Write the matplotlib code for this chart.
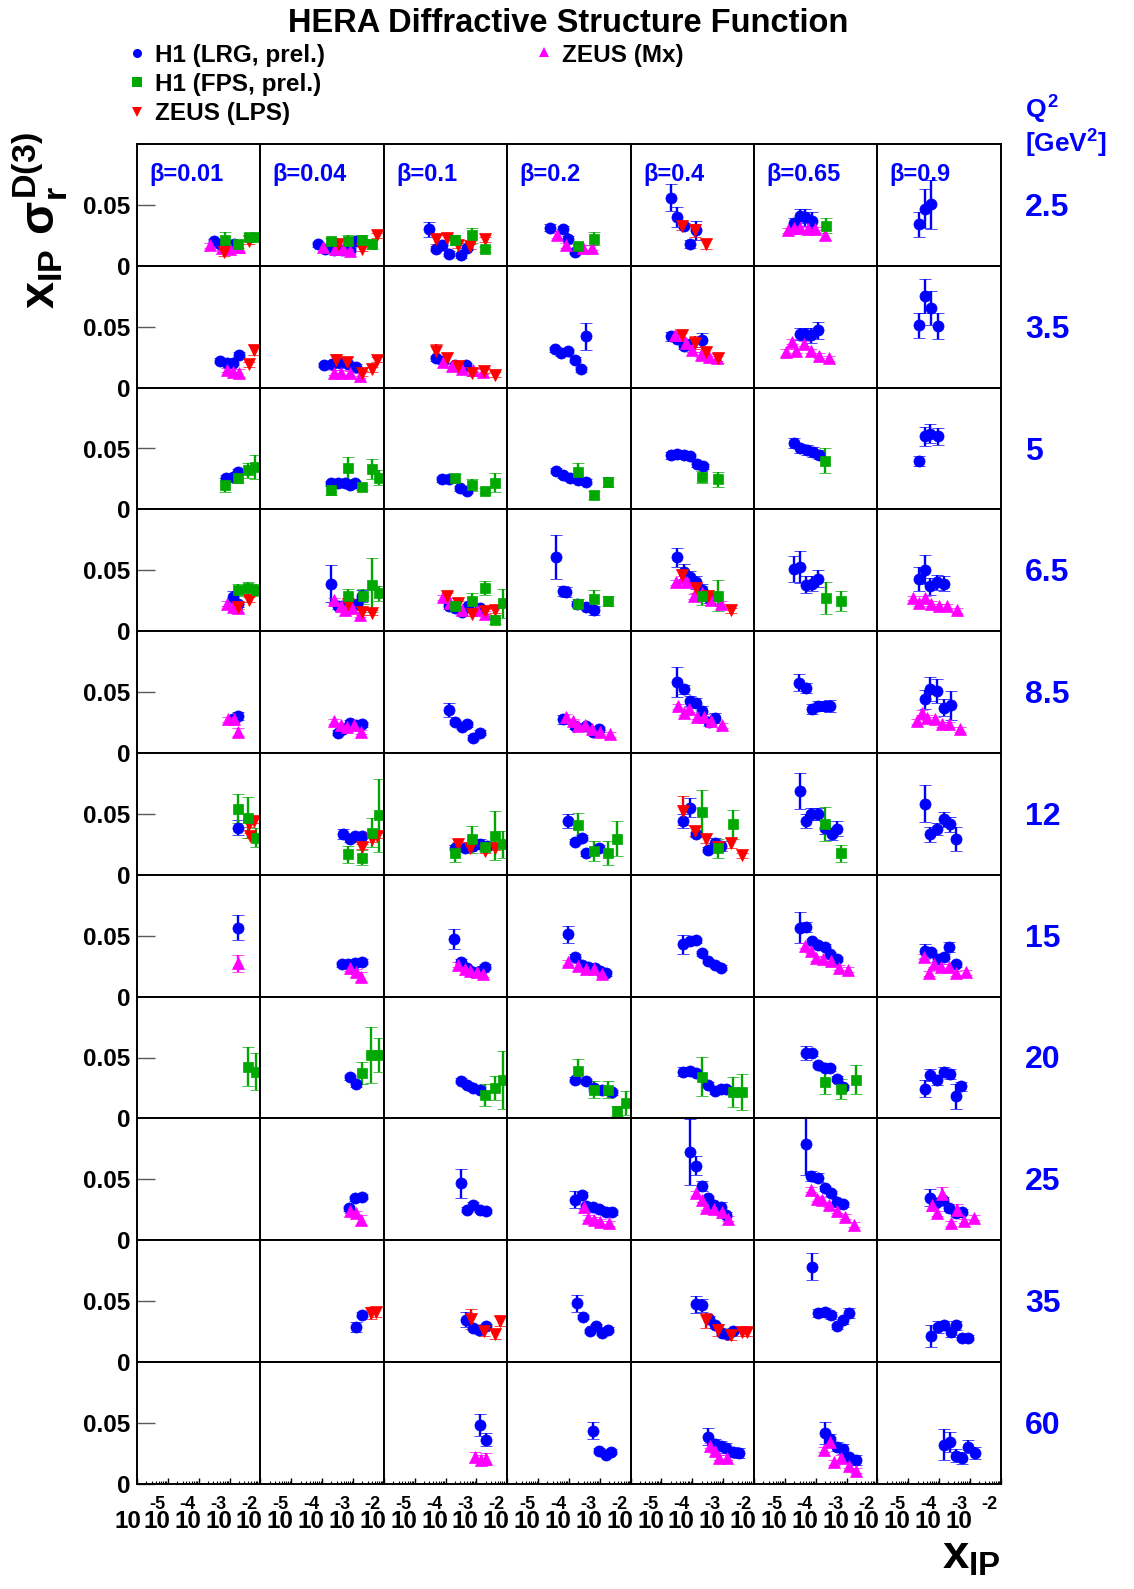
import numpy as np
import matplotlib.pyplot as plt
from matplotlib.ticker import LogLocator, NullFormatter

plt.rcParams['font.family'] = ['Liberation Sans', 'DejaVu Sans']
plt.rcParams['font.weight'] = 'bold'
plt.rcParams['mathtext.fontset'] = 'custom'
plt.rcParams['mathtext.rm'] = 'Liberation Sans:bold'
plt.rcParams['mathtext.it'] = 'Liberation Sans:bold'
plt.rcParams['mathtext.bf'] = 'Liberation Sans:bold'
plt.rcParams['mathtext.sf'] = 'Liberation Sans:bold'

# rows = Q2 bins, columns = beta bins
q2_values = [2.5, 3.5, 5, 6.5, 8.5, 12, 15, 20, 25, 35, 60]
q2_labels = ['2.5', '3.5', '5', '6.5', '8.5', '12', '15', '20', '25', '35', '60']
beta_values = [0.01, 0.04, 0.1, 0.2, 0.4, 0.65, 0.9]
beta_labels = ['0.01', '0.04', '0.1', '0.2', '0.4', '0.65', '0.9']

# points per (Q2, beta) bin: (log10 x_IP, x_IP*sigma_r, error); error defaults to 0.002
h1_lrg = {
    (2.5, 0.01): [(-3.52, 0.020), (-3.3, 0.018), (-3.05, 0.016), (-2.85, 0.018)],
    (2.5, 0.04): [(-4.12, 0.0178), (-3.9, 0.014), (-3.63, 0.013), (-3.37, 0.013), (-3.1, 0.013), (-2.9, 0.020, 0.004)],
    (2.5, 0.1): [(-4.52, 0.030, 0.006), (-4.30, 0.014), (-4.12, 0.017), (-3.9, 0.010), (-3.5, 0.0087), (-3.31, 0.015)],
    (2.5, 0.2): [(-4.62, 0.0314, 0.003), (-4.19, 0.030, 0.003), (-4.02, 0.0224), (-3.81, 0.0115)],
    (2.5, 0.4): [(-4.70, 0.056, 0.011), (-4.49, 0.040, 0.008), (-4.27, 0.033), (-4.09, 0.018, 0.003), (-3.89, 0.029, 0.008)],
    (2.5, 0.65): [(-4.71, 0.035, 0.004), (-4.52, 0.041, 0.006), (-4.34, 0.040, 0.007), (-4.12, 0.037, 0.007)],
    (2.5, 0.9): [(-4.66, 0.034, 0.010), (-4.47, 0.047, 0.016), (-4.25, 0.0505, 0.020)],
    (3.5, 0.01): [(-3.32, 0.022), (-3.08, 0.0205), (-2.89, 0.0205), (-2.7, 0.027)],
    (3.5, 0.04): [(-3.94, 0.0186), (-3.69, 0.019), (-3.42, 0.020), (-3.15, 0.019), (-2.9, 0.017)],
    (3.5, 0.1): [(-4.30, 0.024), (-4.07, 0.022), (-3.69, 0.0186), (-3.33, 0.0186)],
    (3.5, 0.2): [(-4.46, 0.0314), (-4.24, 0.028), (-4.02, 0.030), (-3.81, 0.023), (-3.61, 0.015), (-3.43, 0.042, 0.011)],
    (3.5, 0.4): [(-4.70, 0.042, 0.004), (-4.49, 0.040), (-4.27, 0.034), (-4.06, 0.036), (-3.68, 0.039, 0.006)],
    (3.5, 0.65): [(-4.52, 0.044, 0.005), (-4.34, 0.044, 0.005), (-4.14, 0.043, 0.006), (-3.93, 0.047, 0.007)],
    (3.5, 0.9): [(-4.66, 0.051, 0.010), (-4.47, 0.075, 0.014), (-4.25, 0.065, 0.014), (-4.03, 0.0505, 0.011)],
    (5, 0.01): [(-3.11, 0.026), (-2.89, 0.027), (-2.71, 0.031)],
    (5, 0.04): [(-3.71, 0.0213), (-3.47, 0.0213), (-3.26, 0.022), (-3.1, 0.020), (-2.93, 0.0213)],
    (5, 0.1): [(-4.12, 0.0246), (-3.9, 0.0246), (-3.53, 0.0172), (-3.31, 0.0153)],
    (5, 0.2): [(-4.42, 0.0317), (-4.19, 0.028), (-3.97, 0.0254), (-3.7, 0.024), (-3.43, 0.0227)],
    (5, 0.4): [(-4.70, 0.0445, 0.003), (-4.49, 0.0454, 0.003), (-4.27, 0.0445, 0.003), (-4.06, 0.0437), (-3.84, 0.037), (-3.66, 0.0355)],
    (5, 0.65): [(-4.69, 0.0546, 0.004), (-4.5, 0.050, 0.004), (-4.28, 0.0486, 0.004), (-4.1, 0.047, 0.004), (-3.9, 0.045, 0.004)],
    (5, 0.9): [(-4.66, 0.040, 0.004), (-4.47, 0.060, 0.008), (-4.28, 0.0623, 0.008), (-4.03, 0.060, 0.007)],
    (6.5, 0.01): [(-2.90, 0.028, 0.005), (-2.72, 0.022)],
    (6.5, 0.04): [(-3.71, 0.039, 0.015), (-3.5, 0.0205), (-3.31, 0.021), (-2.88, 0.022), (-2.72, 0.0287, 0.005)],
    (6.5, 0.1): [(-3.9, 0.0205), (-3.69, 0.019), (-3.47, 0.0156), (-3.26, 0.0205), (-2.88, 0.019)],
    (6.5, 0.2): [(-4.42, 0.0607, 0.018), (-4.19, 0.033, 0.004), (-4.08, 0.032, 0.004), (-3.75, 0.0227), (-3.43, 0.020), (-3.19, 0.017, 0.004)],
    (6.5, 0.4): [(-4.49, 0.0607, 0.008), (-4.27, 0.049, 0.006), (-4.09, 0.0445, 0.005), (-3.89, 0.040, 0.005), (-3.68, 0.034, 0.005), (-3.46, 0.0273, 0.004)],
    (6.5, 0.65): [(-4.71, 0.051, 0.011), (-4.52, 0.0527, 0.013), (-4.32, 0.038, 0.007), (-4.12, 0.039, 0.006), (-3.93, 0.043, 0.007)],
    (6.5, 0.9): [(-4.66, 0.043, 0.010), (-4.47, 0.0505, 0.012), (-4.28, 0.037, 0.007), (-4.07, 0.040, 0.006), (-3.85, 0.039, 0.006)],
    (8.5, 0.01): [(-2.89, 0.0276), (-2.71, 0.0303, 0.003)],
    (8.5, 0.04): [(-3.5, 0.0167), (-3.31, 0.0194), (-3.1, 0.0249), (-2.9, 0.0227), (-2.71, 0.0235)],
    (8.5, 0.1): [(-3.9, 0.0352, 0.006), (-3.69, 0.0254), (-3.47, 0.0216), (-3.31, 0.0235), (-3.1, 0.0126), (-2.88, 0.0167)],
    (8.5, 0.2): [(-4.19, 0.0276, 0.004), (-3.81, 0.0221), (-3.43, 0.0221), (-3.21, 0.0172), (-3.02, 0.0194)],
    (8.5, 0.4): [(-4.49, 0.0582, 0.012), (-4.27, 0.0522, 0.004), (-4.09, 0.0426, 0.004), (-3.89, 0.0413, 0.004), (-3.7, 0.0344, 0.004), (-3.46, 0.0254, 0.003), (-3.27, 0.029, 0.004)],
    (8.5, 0.65): [(-4.53, 0.0577, 0.007), (-4.32, 0.0536, 0.004), (-4.12, 0.0363, 0.004), (-3.93, 0.0385, 0.004), (-3.71, 0.0385, 0.004), (-3.53, 0.0385, 0.005)],
    (8.5, 0.9): [(-4.47, 0.044, 0.008), (-4.28, 0.0527, 0.010), (-4.07, 0.0508, 0.010), (-3.85, 0.0372, 0.007), (-3.63, 0.0391, 0.012)],
    (12, 0.01): [(-2.71, 0.0388, 0.006)],
    (12, 0.04): [(-3.31, 0.0333, 0.004), (-3.1, 0.0292), (-2.93, 0.032), (-2.72, 0.032)],
    (12, 0.1): [(-3.69, 0.0224), (-3.36, 0.0216), (-3.1, 0.0238), (-2.88, 0.0251, 0.004), (-2.66, 0.0238)],
    (12, 0.2): [(-4.02, 0.0443, 0.006), (-3.81, 0.027), (-3.59, 0.0306), (-3.43, 0.0178), (-3.02, 0.0224)],
    (12, 0.4): [(-4.3, 0.0443, 0.006), (-4.08, 0.0552, 0.008), (-3.89, 0.0333), (-3.48, 0.0205), (-3.27, 0.0265, 0.004), (-3.08, 0.0238, 0.004)],
    (12, 0.65): [(-4.52, 0.0689, 0.015), (-4.32, 0.0443, 0.006), (-4.14, 0.0497, 0.005), (-3.93, 0.0497, 0.005), (-3.69, 0.0388, 0.005), (-3.47, 0.0333, 0.005), (-3.31, 0.038, 0.006)],
    (12, 0.9): [(-4.47, 0.0585, 0.015), (-4.28, 0.0333, 0.006), (-4.07, 0.0374, 0.005), (-3.85, 0.0456, 0.006), (-3.66, 0.0415, 0.006), (-3.44, 0.0292, 0.010)],
    (15, 0.01): [(-2.71, 0.0566, 0.010)],
    (15, 0.04): [(-3.37, 0.0265), (-3.15, 0.0265), (-2.93, 0.0273), (-2.72, 0.0287)],
    (15, 0.1): [(-3.71, 0.0473, 0.008), (-3.49, 0.0287), (-3.31, 0.0232), (-3.1, 0.0205), (-2.88, 0.021), (-2.72, 0.0246)],
    (15, 0.2): [(-4.02, 0.0511, 0.007), (-3.81, 0.0328), (-3.59, 0.026), (-3.38, 0.0246), (-3.16, 0.0232), (-2.98, 0.021), (-2.8, 0.0191)],
    (15, 0.4): [(-4.3, 0.0429, 0.008), (-4.09, 0.0456), (-3.89, 0.0464), (-3.7, 0.0355), (-3.48, 0.0292), (-3.27, 0.026), (-3.08, 0.0238)],
    (15, 0.65): [(-4.52, 0.0566, 0.013), (-4.32, 0.0574, 0.004), (-4.12, 0.0456), (-3.93, 0.0423), (-3.69, 0.041), (-3.53, 0.0347), (-3.31, 0.0309)],
    (15, 0.9): [(-4.47, 0.0374, 0.006), (-4.25, 0.0363), (-4.03, 0.0309), (-3.85, 0.0328), (-3.67, 0.041, 0.004), (-3.44, 0.0265)],
    (20, 0.04): [(-3.1, 0.0339), (-2.9, 0.0281)],
    (20, 0.1): [(-3.49, 0.0309), (-3.31, 0.0276), (-3.1, 0.0249), (-2.88, 0.0235)],
    (20, 0.2): [(-3.81, 0.0317), (-3.43, 0.0303), (-3.18, 0.0249), (-2.94, 0.0235), (-2.59, 0.0216)],
    (20, 0.4): [(-4.3, 0.0385, 0.004), (-4.09, 0.0391), (-3.89, 0.0372), (-3.48, 0.0276), (-3.27, 0.0227, 0.003), (-3.08, 0.0243), (-2.9, 0.0243)],
    (20, 0.65): [(-4.32, 0.0536, 0.006), (-4.12, 0.0536), (-3.93, 0.044), (-3.69, 0.0413), (-3.53, 0.0413), (-3.31, 0.0325), (-3.1, 0.0254)],
    (20, 0.9): [(-4.47, 0.0243, 0.007), (-4.28, 0.0358, 0.005), (-4.07, 0.0317, 0.004), (-3.85, 0.0385, 0.004), (-3.66, 0.0363, 0.004), (-3.44, 0.018, 0.010), (-3.28, 0.0262, 0.004)],
    (25, 0.04): [(-3.12, 0.0262), (-2.93, 0.0344), (-2.71, 0.0358)],
    (25, 0.1): [(-3.49, 0.0467, 0.012), (-3.31, 0.0249), (-3.1, 0.029), (-2.88, 0.0249), (-2.68, 0.024)],
    (25, 0.2): [(-3.81, 0.0331, 0.007), (-3.59, 0.0372), (-3.43, 0.0281), (-3.21, 0.0276), (-3.02, 0.0257), (-2.8, 0.023), (-2.59, 0.023)],
    (25, 0.4): [(-4.09, 0.0727, 0.027), (-3.89, 0.0612, 0.008), (-3.7, 0.0448, 0.004), (-3.48, 0.0344), (-3.3, 0.029), (-3.08, 0.0276, 0.004), (-2.9, 0.0208)],
    (25, 0.65): [(-4.32, 0.0787, 0.025), (-4.14, 0.053, 0.004), (-3.93, 0.0514, 0.004), (-3.69, 0.0426), (-3.49, 0.0385), (-3.31, 0.0317), (-3.1, 0.0295)],
    (25, 0.9): [(-4.28, 0.035, 0.007), (-4.09, 0.0303), (-3.87, 0.0331), (-3.67, 0.0262), (-3.45, 0.0221), (-3.26, 0.0235)],
    (35, 0.04): [(-2.91, 0.0287, 0.004), (-2.71, 0.0388)],
    (35, 0.1): [(-3.33, 0.0347, 0.006), (-3.1, 0.0281), (-2.9, 0.026), (-2.7, 0.0292)],
    (35, 0.2): [(-3.73, 0.0484, 0.007), (-3.55, 0.0369), (-3.33, 0.0254), (-3.13, 0.0292), (-2.94, 0.024), (-2.74, 0.0265)],
    (35, 0.4): [(-3.89, 0.0473, 0.007), (-3.68, 0.0464, 0.005), (-3.46, 0.0355), (-3.27, 0.030), (-3.03, 0.0238), (-2.87, 0.0227), (-2.68, 0.0254)],
    (35, 0.65): [(-4.12, 0.0784, 0.011), (-3.93, 0.0402, 0.003), (-3.69, 0.041, 0.003), (-3.52, 0.0383, 0.003), (-3.31, 0.0292), (-3.1, 0.0342, 0.003), (-2.93, 0.0402, 0.004)],
    (35, 0.9): [(-4.25, 0.021, 0.009), (-4.03, 0.0287, 0.005), (-3.85, 0.030, 0.004), (-3.63, 0.0246, 0.004), (-3.45, 0.030, 0.004), (-3.26, 0.020), (-3.06, 0.020)],
    (60, 0.1): [(-2.88, 0.0483, 0.009), (-2.7, 0.0363, 0.005)],
    (60, 0.2): [(-3.21, 0.0437, 0.007), (-3.02, 0.0273), (-2.81, 0.024), (-2.62, 0.0265)],
    (60, 0.4): [(-3.48, 0.0388, 0.007), (-3.27, 0.0328, 0.004), (-3.08, 0.0314, 0.004), (-2.9, 0.0295, 0.004), (-2.68, 0.026, 0.004), (-2.49, 0.0251, 0.004)],
    (60, 0.65): [(-3.69, 0.0415, 0.009), (-3.53, 0.0369, 0.004), (-3.31, 0.0306, 0.004), (-3.1, 0.0287, 0.004), (-2.91, 0.0219), (-2.68, 0.0197, 0.004)],
    (60, 0.9): [(-3.85, 0.0322, 0.013), (-3.66, 0.0342, 0.008), (-3.44, 0.0232, 0.005), (-3.26, 0.0213, 0.005), (-3.06, 0.0306, 0.005), (-2.85, 0.0251, 0.005)],
}

h1_fps = {
    (2.5, 0.01): [(-3.14, 0.021, 0.007), (-2.71, 0.018, 0.003), (-2.38, 0.024, 0.003), (-2.13, 0.024, 0.003)],
    (2.5, 0.04): [(-3.71, 0.020, 0.003), (-3.17, 0.020, 0.005), (-2.72, 0.021, 0.004), (-2.39, 0.018, 0.004)],
    (2.5, 0.1): [(-3.69, 0.021, 0.004), (-3.15, 0.025, 0.006), (-2.72, 0.0134)],
    (2.5, 0.2): [(-3.7, 0.016), (-3.18, 0.0224, 0.005)],
    (2.5, 0.65): [(-3.67, 0.033, 0.006)],
    (5, 0.01): [(-3.16, 0.020, 0.006), (-2.71, 0.0254, 0.004), (-2.4, 0.032, 0.006), (-2.17, 0.035, 0.010)],
    (5, 0.04): [(-3.71, 0.0158, 0.004), (-3.17, 0.034, 0.009), (-2.72, 0.018), (-2.39, 0.033, 0.008), (-2.14, 0.026, 0.006)],
    (5, 0.1): [(-3.69, 0.0254, 0.004), (-3.15, 0.020, 0.005), (-2.72, 0.0153), (-2.39, 0.022, 0.008)],
    (5, 0.2): [(-3.7, 0.031, 0.007), (-3.18, 0.0117, 0.003), (-2.73, 0.0227, 0.004)],
    (5, 0.4): [(-3.68, 0.0268, 0.005), (-3.16, 0.0246, 0.006)],
    (5, 0.65): [(-3.69, 0.040, 0.010)],
    (6.5, 0.01): [(-2.71, 0.034, 0.005), (-2.4, 0.0355, 0.005), (-2.13, 0.034, 0.005)],
    (6.5, 0.04): [(-3.15, 0.0287, 0.006), (-2.68, 0.0287, 0.006), (-2.39, 0.038, 0.022), (-2.14, 0.031, 0.006)],
    (6.5, 0.1): [(-3.69, 0.021, 0.004), (-3.15, 0.025, 0.006), (-2.72, 0.0355, 0.006), (-2.39, 0.0096, 0.004), (-2.14, 0.023, 0.012)],
    (6.5, 0.2): [(-3.7, 0.0227, 0.004), (-3.18, 0.0265, 0.007), (-2.73, 0.0246, 0.004)],
    (6.5, 0.4): [(-3.68, 0.0292, 0.008), (-3.16, 0.0292, 0.013)],
    (6.5, 0.65): [(-3.67, 0.0273, 0.013), (-3.17, 0.0246, 0.008)],
    (12, 0.01): [(-2.71, 0.0544, 0.012), (-2.4, 0.047, 0.017), (-2.13, 0.0306, 0.008)],
    (12, 0.04): [(-3.15, 0.017, 0.007), (-2.72, 0.0142, 0.006), (-2.39, 0.0347, 0.012), (-2.14, 0.049, 0.030)],
    (12, 0.1): [(-3.69, 0.0178, 0.007), (-3.15, 0.0292, 0.011), (-2.72, 0.0232, 0.004), (-2.41, 0.032, 0.020), (-2.14, 0.0251, 0.011)],
    (12, 0.2): [(-3.7, 0.0407, 0.010), (-3.18, 0.0197, 0.008), (-2.73, 0.0178, 0.010), (-2.44, 0.0298, 0.014)],
    (12, 0.4): [(-3.68, 0.0516, 0.018), (-3.16, 0.0216, 0.008), (-2.68, 0.0415, 0.012)],
    (12, 0.65): [(-3.69, 0.0415, 0.014), (-3.17, 0.0178, 0.007)],
    (20, 0.01): [(-2.4, 0.0426, 0.016), (-2.13, 0.0385, 0.015)],
    (20, 0.04): [(-2.71, 0.0372, 0.009), (-2.41, 0.0522, 0.023), (-2.14, 0.0522, 0.014)],
    (20, 0.1): [(-2.72, 0.0194, 0.009), (-2.41, 0.0249, 0.010), (-2.14, 0.0317, 0.024)],
    (20, 0.2): [(-3.7, 0.0391, 0.010), (-3.18, 0.0235, 0.007), (-2.73, 0.0235, 0.007), (-2.44, 0.0063, 0.004), (-2.16, 0.0126, 0.010)],
    (20, 0.4): [(-3.68, 0.0344, 0.016), (-2.68, 0.0216, 0.012), (-2.38, 0.0216, 0.015)],
    (20, 0.65): [(-3.69, 0.0298, 0.010), (-3.17, 0.0243, 0.008), (-2.7, 0.0317, 0.012)],
}

zeus_lps = {
    (2.5, 0.01): [(-3.17, 0.011, 0.003), (-2.38, 0.020)],
    (2.5, 0.04): [(-3.5, 0.018), (-2.72, 0.014), (-2.23, 0.025)],
    (2.5, 0.1): [(-4.3, 0.022, 0.004), (-3.94, 0.023), (-3.58, 0.017), (-3.2, 0.016), (-2.72, 0.0216)],
    (2.5, 0.4): [(-4.33, 0.033, 0.004), (-3.92, 0.029, 0.005), (-3.55, 0.018, 0.004)],
    (3.5, 0.01): [(-2.38, 0.019), (-2.22, 0.031, 0.004)],
    (3.5, 0.04): [(-3.56, 0.0227, 0.005), (-3.18, 0.021, 0.004), (-2.72, 0.0117), (-2.39, 0.015), (-2.23, 0.023)],
    (3.5, 0.1): [(-4.3, 0.030, 0.006), (-3.96, 0.024, 0.004), (-3.58, 0.0178), (-3.15, 0.0117), (-2.75, 0.014), (-2.39, 0.0104)],
    (3.5, 0.4): [(-4.33, 0.043, 0.004), (-3.92, 0.037, 0.005), (-3.55, 0.0295, 0.004), (-3.16, 0.024, 0.004)],
    (6.5, 0.01): [(-2.74, 0.020), (-2.38, 0.026)],
    (6.5, 0.04): [(-3.15, 0.0227), (-2.72, 0.0156), (-2.39, 0.015)],
    (6.5, 0.1): [(-3.96, 0.029), (-3.58, 0.023), (-3.15, 0.0145), (-2.72, 0.0164), (-2.39, 0.017)],
    (6.5, 0.4): [(-4.33, 0.0464, 0.004), (-3.89, 0.0355, 0.004), (-3.48, 0.0292), (-2.73, 0.017)],
    (12, 0.01): [(-2.38, 0.0415), (-2.22, 0.0443), (-2.33, 0.032)],
    (12, 0.04): [(-2.72, 0.0232), (-2.39, 0.0292), (-2.23, 0.032)],
    (12, 0.1): [(-3.58, 0.0251), (-3.2, 0.0216), (-2.72, 0.0197), (-2.41, 0.0224)],
    (12, 0.4): [(-4.3, 0.0525, 0.012), (-3.92, 0.036, 0.004), (-3.55, 0.0298, 0.004), (-3.16, 0.0232), (-2.73, 0.026, 0.004), (-2.38, 0.0161)],
    (35, 0.04): [(-2.41, 0.0402, 0.005), (-2.25, 0.041, 0.004)],
    (35, 0.1): [(-3.18, 0.0355, 0.008), (-2.75, 0.0254, 0.004), (-2.41, 0.0232, 0.004), (-2.23, 0.0336, 0.004)],
    (35, 0.4): [(-3.55, 0.0342, 0.006), (-3.16, 0.026, 0.005), (-2.73, 0.0219, 0.004), (-2.38, 0.0246, 0.003), (-2.22, 0.0246, 0.003)],
}

zeus_mx = {
    (2.5, 0.01): [(-3.62, 0.017), (-3.25, 0.015), (-2.98, 0.014), (-2.7, 0.0156, 0.005)],
    (2.5, 0.04): [(-3.96, 0.0156), (-3.58, 0.0142), (-3.31, 0.0134), (-3.1, 0.012)],
    (2.5, 0.2): [(-4.4, 0.025), (-4.08, 0.017), (-3.54, 0.015), (-3.24, 0.015)],
    (2.5, 0.65): [(-4.9, 0.029), (-4.71, 0.031), (-4.5, 0.031), (-4.25, 0.030), (-4.01, 0.030), (-3.69, 0.025, 0.004)],
    (3.5, 0.01): [(-3.08, 0.0145), (-2.89, 0.013), (-2.7, 0.012, 0.003)],
    (3.5, 0.04): [(-3.63, 0.0123), (-3.4, 0.0123), (-3.1, 0.0117), (-2.77, 0.0098)],
    (3.5, 0.1): [(-4.07, 0.021), (-3.8, 0.0178), (-3.47, 0.015), (-3.1, 0.0145), (-2.77, 0.013)],
    (3.5, 0.4): [(-4.56, 0.043), (-4.38, 0.043), (-4.22, 0.037), (-4.0, 0.031), (-3.73, 0.027), (-3.46, 0.0254), (-3.19, 0.024)],
    (3.5, 0.65): [(-4.96, 0.029, 0.003), (-4.77, 0.0377), (-4.63, 0.030), (-4.39, 0.036), (-4.14, 0.030), (-3.88, 0.026), (-3.58, 0.024)],
    (6.5, 0.01): [(-3.08, 0.0227), (-2.89, 0.020), (-2.74, 0.019, 0.003)],
    (6.5, 0.04): [(-3.6, 0.0254), (-3.4, 0.0205), (-3.26, 0.0178), (-3.02, 0.019), (-2.77, 0.0137)],
    (6.5, 0.1): [(-4.07, 0.028), (-3.87, 0.023), (-3.47, 0.017), (-2.99, 0.017), (-2.72, 0.0145)],
    (6.5, 0.4): [(-4.52, 0.040), (-4.3, 0.0437), (-4.16, 0.040), (-3.95, 0.0287), (-3.68, 0.031), (-3.41, 0.0254), (-3.08, 0.0227)],
    (6.5, 0.9): [(-4.86, 0.0273), (-4.66, 0.023), (-4.47, 0.0273), (-4.25, 0.0227), (-3.99, 0.0205), (-3.76, 0.0205), (-3.42, 0.017)],
    (8.5, 0.01): [(-3.05, 0.0276), (-2.87, 0.0276), (-2.73, 0.0172, 0.003)],
    (8.5, 0.04): [(-3.6, 0.0262), (-3.4, 0.023), (-3.2, 0.0216), (-2.98, 0.0227), (-2.74, 0.0172)],
    (8.5, 0.2): [(-4.08, 0.0298), (-3.88, 0.0262), (-3.7, 0.0221), (-3.48, 0.0227), (-3.24, 0.020), (-2.98, 0.0172), (-2.68, 0.0153)],
    (8.5, 0.4): [(-4.46, 0.0385), (-4.27, 0.0331), (-4.11, 0.0358), (-3.86, 0.0298), (-3.62, 0.0298), (-3.41, 0.0262), (-3.05, 0.0227)],
    (8.5, 0.9): [(-4.71, 0.0262), (-4.55, 0.0331), (-4.39, 0.029), (-4.14, 0.0276), (-3.9, 0.0235), (-3.67, 0.0235), (-3.33, 0.0194)],
    (15, 0.01): [(-2.73, 0.0273, 0.007)],
    (15, 0.04): [(-3.1, 0.0232), (-2.91, 0.0205), (-2.74, 0.0164, 0.004)],
    (15, 0.1): [(-3.58, 0.026), (-3.36, 0.0227), (-3.2, 0.021), (-2.99, 0.020), (-2.77, 0.0183)],
    (15, 0.2): [(-4.02, 0.0281), (-3.7, 0.0254), (-3.45, 0.0227), (-3.19, 0.0227), (-2.94, 0.0183)],
    (15, 0.65): [(-4.34, 0.0418), (-4.15, 0.0374), (-3.99, 0.0314), (-3.77, 0.0309), (-3.49, 0.0292), (-3.26, 0.0238), (-2.95, 0.0219)],
    (15, 0.9): [(-4.5, 0.0328), (-4.32, 0.0191), (-4.17, 0.0265), (-3.93, 0.0246), (-3.67, 0.0246), (-3.44, 0.0191), (-3.13, 0.020)],
    (25, 0.04): [(-3.1, 0.024), (-2.91, 0.0221), (-2.74, 0.0167, 0.004)],
    (25, 0.2): [(-3.52, 0.0276), (-3.38, 0.0186), (-3.19, 0.0167), (-2.98, 0.0153), (-2.7, 0.0139)],
    (25, 0.4): [(-3.89, 0.0385), (-3.7, 0.0331), (-3.55, 0.0268), (-3.3, 0.0257), (-3.05, 0.023), (-2.84, 0.0175)],
    (25, 0.65): [(-4.14, 0.0413), (-3.95, 0.0339), (-3.8, 0.0331), (-3.58, 0.029), (-3.31, 0.024), (-3.06, 0.0194), (-2.76, 0.0126)],
    (25, 0.9): [(-4.23, 0.029, 0.005), (-4.07, 0.0221), (-3.9, 0.0377, 0.006), (-3.63, 0.0139), (-3.42, 0.0249, 0.005), (-3.2, 0.0158), (-2.88, 0.0186)],
    (60, 0.1): [(-3.04, 0.0219, 0.004), (-2.85, 0.0197, 0.004), (-2.7, 0.0205, 0.005)],
    (60, 0.4): [(-3.44, 0.0314), (-3.27, 0.0273), (-3.12, 0.0213), (-2.89, 0.0213)],
    (60, 0.65): [(-3.74, 0.0279), (-3.55, 0.0342, 0.004), (-3.4, 0.0178), (-3.17, 0.0213), (-2.92, 0.015), (-2.68, 0.0109)],
}

BLUE = '#0000ff'
GREEN = '#00a800'
RED = '#ff0000'
MAGENTA = '#ff00ff'

series = [
    ('H1 (LRG, prel.)', h1_lrg, 'o', BLUE, 8.0),
    ('ZEUS (Mx)', zeus_mx, '^', MAGENTA, 8.5),
    ('ZEUS (LPS)', zeus_lps, 'v', RED, 8.5),
    ('H1 (FPS, prel.)', h1_fps, 's', GREEN, 7.2),
]

W, H = 1134, 1589
fig = plt.figure(figsize=(W / 100, H / 100), dpi=100)


def px(x, y):
    # pixel position (from top-left) -> figure fraction
    return x / W, 1 - y / H


x0, y0 = 137, 144        # top-left corner of the pad grid
pw, ph = 123.4, 121.8    # pad size
nrow, ncol = len(q2_values), len(beta_values)

for i, q2 in enumerate(q2_values):
    for j, beta in enumerate(beta_values):
        ax = fig.add_axes([(x0 + j * pw) / W, 1 - (y0 + (i + 1) * ph) / H, pw / W, ph / H])
        ax.set_xscale('log')
        ax.set_xlim(1e-6, 1e-2)
        ax.set_ylim(0, 0.1)
        for spine in ax.spines.values():
            spine.set_linewidth(1.4)

        for name, data, mk, col, ms in series:
            pts = data.get((q2, beta))
            if not pts:
                continue
            xv = 10 ** np.array([p[0] for p in pts])
            yv = np.array([p[1] for p in pts])
            ev = np.array([p[2] if len(p) > 2 else 0.002 for p in pts])
            ax.errorbar(xv, yv, yerr=ev, fmt=mk, color=col, ms=ms, mec=col, mew=0.5,
                        elinewidth=1.7, capsize=4, capthick=1.7)

        # x ticks only on the bottom row
        ax.xaxis.set_major_locator(LogLocator(base=10, numticks=10))
        ax.xaxis.set_minor_locator(LogLocator(base=10, subs=np.arange(2, 10), numticks=20))
        ax.xaxis.set_major_formatter(NullFormatter())
        ax.xaxis.set_minor_formatter(NullFormatter())
        ax.tick_params(axis='x', which='both', direction='in', top=False,
                       bottom=(i == nrow - 1), labelbottom=False)
        ax.tick_params(axis='x', which='major', length=4.5, width=1)
        ax.tick_params(axis='x', which='minor', length=2.2, width=0.8)

        if j == 0:
            ax.set_yticks([0, 0.05])
            ax.set_yticklabels(['0', '0.05'])
            ax.tick_params(axis='y', direction='in', length=13, width=1, color='0.35',
                           labelsize=17.5, pad=5, right=False)
        else:
            ax.set_yticks([])

        if i == 0:
            ax.text(0.10, 0.70, 'β=' + beta_labels[j], transform=ax.transAxes,
                    fontsize=17, color=BLUE, va='baseline', ha='left')

    # Q2 value of the row
    fig.text(*px(1025, y0 + (i + 0.5) * ph + 11), q2_labels[i], fontsize=23,
             color=BLUE, va='baseline', ha='left')

# bottom axis labels, drawn ROOT-style with the exponent above the base
for j in range(ncol):
    left = x0 + j * pw
    for k in (-5, -4, -3, -2):
        tx = left + (k + 6) * pw / 4 - 11
        fig.text(*px(tx, 1509), str(k), fontsize=13, ha='center', va='baseline')
        if not (j == ncol - 1 and k == -2):
            fig.text(*px(tx, 1528), '10', fontsize=17.5, ha='center', va='baseline')
fig.text(*px(x0 - 9, 1528), '10', fontsize=17.5, ha='center', va='baseline')

# titles and axis labels
fig.text(*px(568, 32), 'HERA Diffractive Structure Function', fontsize=23.5,
         ha='center', va='baseline')
fig.text(*px(1025, 119), r'$Q^{2}$', fontsize=19, color=BLUE, ha='left', va='baseline')
fig.text(*px(1025, 153), r'[GeV$^{2}$]', fontsize=19, color=BLUE, ha='left', va='baseline')
fig.text(*px(40, 221), r'$x_{IP}\ \sigma_{r}^{D(3)}$', fontsize=35, rotation=90,
         ha='center', va='center')
fig.text(*px(1000, 1568), r'$x_{IP}$', fontsize=34, ha='right', va='baseline')

# legend, placed like the ROOT TLegend
overlay = fig.add_axes([0, 0, 1, 1], zorder=-1)
overlay.set_xlim(0, W)
overlay.set_ylim(H, 0)
overlay.axis('off')
legend_rows = [
    ('H1 (LRG, prel.)', 'o', BLUE, 137, 53, 155, 62),
    ('H1 (FPS, prel.)', 's', GREEN, 137, 82, 155, 91),
    ('ZEUS (LPS)', 'v', RED, 137, 112, 155, 120),
    ('ZEUS (Mx)', '^', MAGENTA, 544, 52, 562, 62),
]
for label, mk, col, mx, my, tx, ty in legend_rows:
    overlay.plot(mx, my, mk, color=col, ms=6.5, mew=0)
    overlay.text(tx, ty, label, fontsize=17.5, ha='left', va='baseline')

fig.savefig('out.png', dpi=100)
